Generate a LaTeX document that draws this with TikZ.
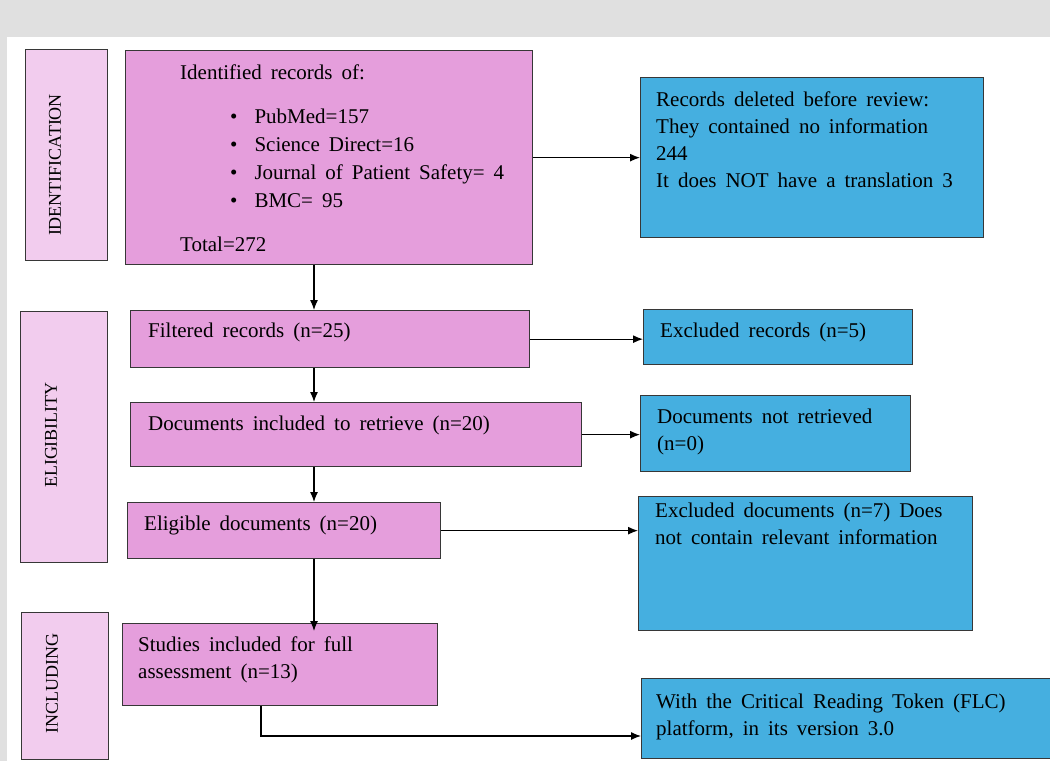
\documentclass[tikz,border=0pt]{standalone}
\usepackage{fontspec}
\setmainfont{Liberation Serif}
\usetikzlibrary{arrows.meta}
\definecolor{boxpink}{RGB}{229,158,220}
\definecolor{stagepink}{RGB}{242,204,238}
\definecolor{boxblue}{RGB}{69,175,224}
\definecolor{edgegray}{RGB}{55,55,55}
\definecolor{bggray}{RGB}{224,224,224}
\newcommand{\blt}{\hspace*{50pt}\textbullet\hspace{17pt}}
\newcommand{\widesp}{\spaceskip=9pt plus 3pt minus 2pt\relax}

\begin{document}
\begin{tikzpicture}[x=1pt,y=-1pt,
  every node/.style={font=\fontsize{21}{27}\selectfont},
  frame/.style={draw=edgegray,line width=1.3pt,anchor=north west,inner sep=0pt},
  pinkbox/.style={frame,fill=boxpink},
  bluebox/.style={frame,fill=boxblue},
  stagebox/.style={frame,fill=stagepink},
  txt/.style={anchor=base west,inner sep=0pt,text width=#1,execute at begin node=\widesp},
  txt/.default=360pt,
  stagetxt/.style={rotate=90,inner sep=0pt,font=\fontsize{18}{20}\selectfont},
  arr/.style={-{Latex[length=10pt,width=8pt]},line width=1.2pt}]
\useasboundingbox (0,0) rectangle (1050,761);
\fill[bggray] (0,0) rectangle (1050,761); \fill[white] (7,37) rectangle (1050,761);
\coordinate (spine) at (314,0); \coordinate (bend) at (261,736);
\node[stagebox,minimum width=82pt,minimum height=211pt] (idstage) at (25,49) {};
\node[stagebox,minimum width=87pt,minimum height=251pt] (elstage) at (20,311) {};
\node[stagebox,minimum width=87pt,minimum height=147pt] (instage) at (21,612) {};
\node[stagetxt] (idtxt) at (55,165) {IDENTIFICATION};
\node[stagetxt] (eltxt) at (51,435) {ELIGIBILITY};
\node[stagetxt] (intxt) at (52,683) {INCLUDING};
\node[pinkbox,minimum width=407pt,minimum height=214pt] (ident) at (125,50) {};
\node[pinkbox,minimum width=399pt,minimum height=57pt] (filt) at (130,310) {};
\node[pinkbox,minimum width=451pt,minimum height=64pt] (docs) at (130,402) {};
\node[pinkbox,minimum width=313pt,minimum height=56pt] (elig) at (127,502) {};
\node[pinkbox,minimum width=315pt,minimum height=82pt] (stud) at (122,623) {};
\node[bluebox,minimum width=343pt,minimum height=160pt] (deleted) at (640,77) {};
\node[bluebox,minimum width=269pt,minimum height=55pt] (exrec) at (643,309) {};
\node[bluebox,minimum width=270pt,minimum height=76pt] (notret) at (640,395) {};
\node[bluebox,minimum width=334pt,minimum height=134pt] (exdocs) at (638,496) {};
\node[bluebox,minimum width=420pt,minimum height=80pt] (flc) at (641,678) {};
\node[txt,font=\fontsize{21}{28}\selectfont] (identtxt) at (180,79) {Identified records of:\\[16pt]
  \blt PubMed=157\\ \blt Science Direct=16\\ \blt Journal of Patient Safety= 4\\ \blt BMC= 95\\[16pt] Total=272};
\node[txt] (filttxt) at (148,337) {Filtered records (n=25)};
\node[txt=420pt] (docstxt) at (148,430) {Documents included to retrieve (n=20)};
\node[txt] (eligtxt) at (144,530) {Eligible documents (n=20)};
\node[txt=290pt] (studtxt) at (138,651) {Studies included for full\\assessment (n=13)};
\node[txt] (deltxt) at (656,106) {Records deleted before review:\\They contained no information\\244\\It does NOT have a translation 3};
\node[txt] (exrectxt) at (660,337) {Excluded records (n=5)};
\node[txt] (notrettxt) at (657,423) {Documents not retrieved\\(n=0)};
\node[txt] (exdocstxt) at (655,517) {Excluded documents (n=7) Does\\not contain relevant information};
\node[txt=400pt] (flctxt) at (656,708) {With the Critical Reading Token (FLC)\\platform, in its version 3.0};
\draw[arr] (ident.east) -- (deleted.west |- ident.east);
\draw[arr] (filt.east) -- (exrec.west |- filt.east);
\draw[arr] (docs.east) -- (notret.west |- docs.east);
\draw[arr] (elig.east) -- (exdocs.west |- elig.east);
\draw[arr] (spine |- ident.south) -- (spine |- filt.north);
\draw[arr] (spine |- filt.south) -- (spine |- docs.north);
\draw[arr] (spine |- docs.south) -- (spine |- elig.north);
\draw[arr] (spine |- elig.south) -- ([yshift=-8pt]spine |- stud.north);
\draw[arr] (bend |- stud.south) -- (bend) -- (bend -| flc.west);
\end{tikzpicture}
\end{document}
